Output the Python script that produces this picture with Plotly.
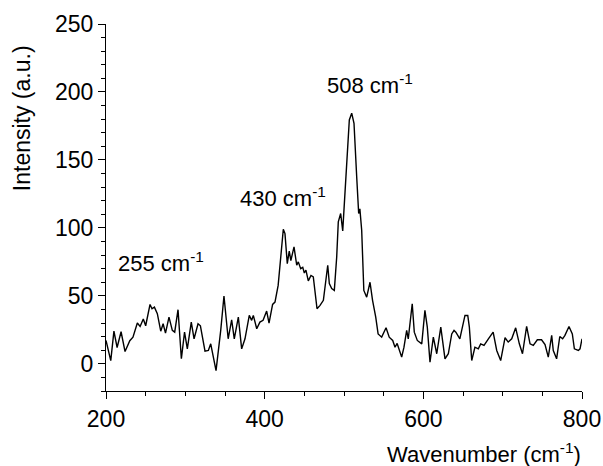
import plotly.graph_objects as go

wavenumber = [200, 206, 210, 214, 219, 224, 230, 234, 239.5, 243, 247, 250, 255.5, 258, 261, 264.7,
              269, 272, 275, 279.4, 283.6, 286.6, 290.8, 295, 299, 302.5, 307.5, 311, 316, 319,
              324.8, 329, 332, 338.7, 344.6, 348.7, 354, 358.4, 361.7, 366.8, 371, 375.2, 380.6,
              383.6, 385.7, 390, 394, 398, 402.5, 405.5, 410, 413, 417, 420.6, 423.5, 425.6, 428.5,
              431, 433, 437, 440.4, 442.4, 445.4, 448, 450, 452, 455, 458.4, 461.3, 466, 469.8, 474,
              477, 479.5, 481.5, 484.5, 487.8, 490.8, 492.8, 495.8, 498.4, 502.5, 506.7, 509.7,
              512.6, 516, 518.5, 520, 522.3, 525, 528.6, 532.8, 536, 540, 543, 547.5, 553, 557,
              561.4, 564.3, 567, 572.7, 575.6, 579, 581, 586, 588.6, 592.4, 598, 602, 605, 608.4,
              612.6, 616.9, 622, 627.3, 631.5, 635.8, 638.7, 641, 646, 652.5, 656, 658, 661, 665,
              669.3, 672.3, 676.5, 682, 688, 692.5, 697.5, 703, 707, 711.4, 716.4, 721, 725, 730.2,
              734.5, 738.6, 743.7, 749, 753.4, 757.5, 761.8, 763.8, 768, 772, 775.6, 778.5, 783.6,
              787.8, 790.4, 795.4, 797.5, 800]
intensity = [17.2, 2.4, 24, 12, 23.6, 9, 17, 19.6, 30, 27.5, 33, 28, 43.7, 40.5, 41.7, 36.9,
             24, 29.5, 22.6, 34.4, 24.6, 23.3, 39.8, 3.7, 23.3, 11, 30.7, 18.4, 29.5, 28,
             9.3, 9.8, 14.7, -5, 24.6, 49.9, 18.4, 32.4, 18.4, 34.4, 11, 18.4, 35.6,
             32, 35.6, 25.8, 30.7, 32, 38.8, 30, 43.7, 45.4, 57.7, 83.6, 99, 95.8, 73.7,
             83, 76, 86, 72.5, 75, 70, 71, 66.8, 69, 61, 65, 64, 40.5, 43, 46.7,
             60, 72.5, 59, 55.3, 54, 78.6, 104.4, 110.6, 97.8, 137.6, 179.4, 184.4,
             177, 137.6, 110.6, 114, 98.3, 54, 49, 60, 46.7, 34.4, 22, 19.6, 26.5, 19.6,
             17.2, 12.2, 15, 4.9, 12.2, 24.6, 18.4, 44.2, 23.3, 17.2, 14.7, 39.3, 27, 1.2,
             19.6, 7.4, 27, 3.7, 7.4, 22, 24.6, 23.3, 18.4, 35.6, 35.6, 27, 2.4, 12.2,
             11, 14.7, 13.5, 18.4, 23.3, 9.8, 2.4, 19.2, 16, 18.4, 26.5, 14.7, 7.4, 27.5,
             14.7, 13.5, 17.7, 17.7, 14.2, 4.9, 20.9, 9.8, 3.7, 20.1, 18.4, 20.9, 27.5,
             22, 11, 9.8, 11, 18.4]

peak_labels = ["255 cm<sup>-1</sup>", "430 cm<sup>-1</sup>", "508 cm<sup>-1</sup>"]
peak_label_x = [212.5, 366.0, 475.5]
peak_label_y = [75, 123, 206]

x_ticks = [200, 400, 600, 800]
y_ticks = [0, 50, 100, 150, 200, 250]

FONT = "Liberation Sans, Arial, sans-serif"

fig = go.Figure()
fig.add_trace(go.Scatter(x=wavenumber, y=intensity, mode="lines",
                         line=dict(color="black", width=1.4), showlegend=False))

for t, xx, yy in zip(peak_labels, peak_label_x, peak_label_y):
    fig.add_annotation(x=xx, y=yy, text=t, showarrow=False, xanchor="left", yanchor="middle",
                       font=dict(family=FONT, size=22, color="black"))

fig.add_annotation(xref="paper", yref="paper", x=0.794, y=-0.168, text="Wavenumber (cm<sup>-1</sup>)",
                   showarrow=False, xanchor="center", yanchor="middle",
                   font=dict(family=FONT, size=22, color="black"))
fig.add_annotation(xref="paper", yref="paper", x=-0.176, y=0.744, text="Intensity (a.u.)",
                   showarrow=False, xanchor="center", yanchor="middle", textangle=-90,
                   font=dict(family=FONT, size=23, color="black"))

fig.update_layout(
    width=603, height=466,
    margin=dict(l=106, r=21, t=24, b=75, autoexpand=False),
    paper_bgcolor="white", plot_bgcolor="white",
    font=dict(family=FONT, size=23, color="black"),
)
fig.update_xaxes(range=[200, 800], tickvals=x_ticks, ticks="outside", ticklen=7, tickwidth=1.3,
                 tickcolor="black", showline=True, linecolor="black", linewidth=1.3,
                 showgrid=False, zeroline=False, automargin=False,
                 minor=dict(dtick=50, tick0=200, ticks="outside", ticklen=4, tickwidth=1.3, tickcolor="black"),
                 tickfont=dict(family=FONT, size=23, color="black"))
fig.update_yaxes(range=[-20, 250], tickvals=y_ticks, ticks="outside", ticklen=7, tickwidth=1.3,
                 tickcolor="black", showline=True, linecolor="black", linewidth=1.3,
                 showgrid=False, zeroline=False, automargin=False,
                 minor=dict(dtick=10, tick0=0, ticks="outside", ticklen=4, tickwidth=1.3, tickcolor="black"),
                 tickfont=dict(family=FONT, size=23, color="black"))

fig.write_html("out.html", config={"displayModeBar": False},
               post_script="document.body.style.margin='0';")
